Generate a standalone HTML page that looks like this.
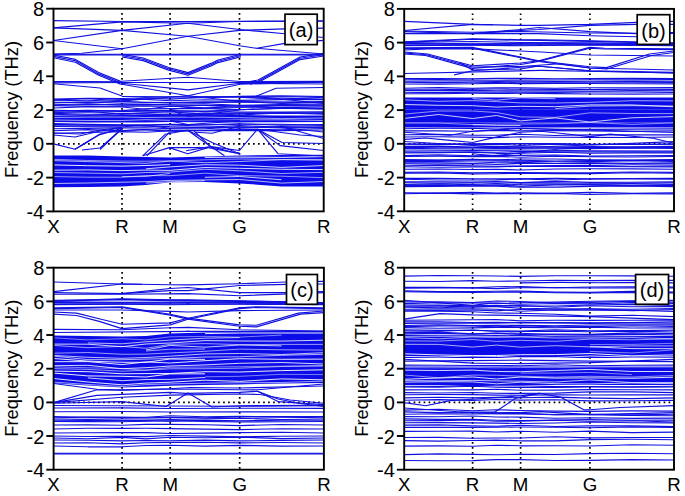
<!DOCTYPE html><html><head><meta charset="utf-8"><style>html,body{margin:0;padding:0;background:#fff;}svg{display:block;}text{font-family:"Liberation Sans",sans-serif;fill:#000;}</style></head><body>
<svg width="685" height="496" viewBox="0 0 685 496">
<defs>
<clipPath id="clipa"><rect x="53.5" y="8.7" width="270.2" height="202.7"/></clipPath>
<clipPath id="clipb"><rect x="404.2" y="8.9" width="269.8" height="202.4"/></clipPath>
<clipPath id="clipc"><rect x="53.6" y="267.7" width="270.3" height="202.0"/></clipPath>
<clipPath id="clipd"><rect x="404.2" y="267.7" width="269.8" height="202.0"/></clipPath>
</defs>
<line x1="122.0" y1="13.1" x2="122.0" y2="211.4" stroke="#000" stroke-width="1.7" stroke-dasharray="1.7 3.3"/>
<line x1="170.1" y1="13.1" x2="170.1" y2="211.4" stroke="#000" stroke-width="1.7" stroke-dasharray="1.7 3.3"/>
<line x1="239.5" y1="13.1" x2="239.5" y2="211.4" stroke="#000" stroke-width="1.7" stroke-dasharray="1.7 3.3"/>
<line x1="58.0" y1="143.8" x2="323.7" y2="143.8" stroke="#000" stroke-width="1.7" stroke-dasharray="1.7 3.3"/>
<g clip-path="url(#clipa)">
<path d="M53.5,115.4 87.8,115.2 122.0,115.0 145.9,115.0 170.1,114.5 204.8,115.0 239.5,115.0 281.5,115.5 323.7,115.4 323.7,122.1 281.5,122.2 239.5,122.4 204.8,122.2 170.1,122.0 145.9,122.4 122.0,122.6 87.8,122.4 53.5,122.1Z" fill="#0c0ce8"/>
<path d="M53.5,155.6 87.8,155.5 122.0,156.5 145.9,157.0 170.1,157.5 204.8,156.5 239.5,155.5 281.5,155.0 323.7,154.7 323.7,186.4 281.5,186.4 239.5,183.4 204.8,182.0 170.1,182.3 145.9,185.0 122.0,186.4 87.8,187.0 53.5,187.3Z" fill="#0c0ce8"/>
<path d="M53.5,117.5 87.8,117.1 122.0,117.0 145.9,117.5 170.1,117.2 204.8,117.1 239.5,117.7 281.5,118.6 323.7,118.0" fill="none" stroke="#fff" stroke-opacity="0.6" stroke-width="1.0"/>
<path d="M53.5,120.0 87.8,120.5 122.0,120.5 145.9,119.7 170.1,120.3 204.8,120.0 239.5,119.9 281.5,119.8 323.7,120.5" fill="none" stroke="#fff" stroke-opacity="0.6" stroke-width="1.0"/>
<path d="M204.8,157.4 239.5,157.1 281.5,157.4 323.7,156.6" fill="none" stroke="#fff" stroke-opacity="0.91" stroke-width="1.0"/>
<path d="M53.5,159.3 87.8,160.5 122.0,161.1 145.9,161.2 170.1,160.9 204.8,159.8 239.5,159.0 281.5,159.5 323.7,159.7" fill="none" stroke="#fff" stroke-opacity="0.55" stroke-width="1.0"/>
<path d="M53.5,160.6 87.8,161.6 122.0,162.6 145.9,163.3 170.1,161.1 204.8,162.7 239.5,161.5 281.5,159.7 323.7,160.1" fill="none" stroke="#fff" stroke-opacity="0.66" stroke-width="1.0"/>
<path d="M53.5,164.9 87.8,165.7 122.0,166.1 145.9,165.5 170.1,164.6" fill="none" stroke="#fff" stroke-opacity="0.92" stroke-width="1.0"/>
<path d="M145.9,168.8 170.1,166.9 204.8,164.7 239.5,165.2 281.5,167.4 323.7,165.5" fill="none" stroke="#fff" stroke-opacity="0.8" stroke-width="1.0"/>
<path d="M53.5,170.2 87.8,169.9 122.0,170.6 145.9,170.1 170.1,170.4 204.8,167.5 239.5,168.3 281.5,169.3 323.7,169.6" fill="none" stroke="#fff" stroke-opacity="0.85" stroke-width="1.0"/>
<path d="M53.5,172.5 87.8,173.1 122.0,173.8 145.9,172.5 170.1,172.1 204.8,169.3 239.5,170.8 281.5,173.5 323.7,172.3" fill="none" stroke="#fff" stroke-opacity="0.63" stroke-width="1.0"/>
<path d="M122.0,176.7 145.9,176.5 170.1,173.4" fill="none" stroke="#fff" stroke-opacity="0.63" stroke-width="1.0"/>
<path d="M53.5,176.6 87.8,177.2 122.0,177.2 145.9,175.5 170.1,175.7 204.8,173.2 239.5,175.6 281.5,176.2 323.7,177.7" fill="none" stroke="#fff" stroke-opacity="0.56" stroke-width="1.0"/>
<path d="M204.8,177.3 239.5,176.5 281.5,179.7" fill="none" stroke="#fff" stroke-opacity="0.79" stroke-width="1.0"/>
<path d="M53.5,183.5 87.8,183.0 122.0,182.2 145.9,181.7 170.1,180.4 204.8,179.9 239.5,179.5 281.5,183.1 323.7,181.5" fill="none" stroke="#fff" stroke-opacity="0.71" stroke-width="1.0"/>
<path d="M145.9,183.1 170.1,181.8 204.8,180.7" fill="none" stroke="#fff" stroke-opacity="0.71" stroke-width="1.0"/>
</g>
<g clip-path="url(#clipa)" fill="none" stroke="#1010e0" stroke-width="1.15" stroke-linejoin="round">
<path d="M53.5,20.6 122.0,21.5 187.7,21.6 239.5,21.3 323.7,20.8"/>
<path d="M53.5,27.9 122.0,21.9 187.7,23.3 239.5,29.5 285.0,33.8 323.7,37.5"/>
<path d="M53.5,27.9 122.0,30.4 187.7,23.3 239.5,21.5 323.7,21.2"/>
<path d="M53.5,40.5 122.0,30.4 187.7,36.2 239.5,45.8 256.5,48.3 323.7,54.0"/>
<path d="M53.5,40.5 122.0,48.8"/>
<path d="M53.5,54.1 81.8,53.3 122.0,48.8 187.7,36.2 239.5,30.4 285.0,28.9 323.7,28.1"/>
<path d="M256.5,48.3 285.0,43.4 323.7,40.4"/>
<path d="M53.5,54.2 323.7,54.2"/>
<path d="M53.5,54.8 323.7,54.8"/>
<path d="M53.5,55.0 75.4,59.4 98.7,72.5 120.0,81.1 122.0,81.3"/>
<path d="M53.5,56.4 75.4,60.8 98.7,73.9 120.0,82.5 122.0,82.7"/>
<path d="M53.5,57.8 75.4,62.2 98.7,75.3 120.0,83.9 122.0,84.1"/>
<path d="M122.0,54.4 143.2,58.0 168.6,67.5 188.0,72.6 211.0,63.4 218.0,60.0 241.0,54.2"/>
<path d="M122.0,55.7 143.2,59.3 168.6,68.8 188.0,73.9 211.0,64.7 218.0,61.3 241.0,55.5"/>
<path d="M122.0,57.0 143.2,60.6 168.6,70.1 188.0,75.2 211.0,66.0 218.0,62.6 241.0,56.8"/>
<path d="M250.0,81.5 258.0,80.0 271.0,73.0 300.0,57.0 323.7,53.4"/>
<path d="M250.0,82.8 258.0,81.3 271.0,74.3 300.0,58.3 323.7,54.7"/>
<path d="M250.0,84.1 258.0,82.6 271.0,75.6 300.0,59.6 323.7,56.0"/>
<path d="M53.5,81.6 122.0,81.2 188.0,77.2 240.0,81.5 323.7,81.3"/>
<path d="M53.5,82.8 122.0,82.5 188.0,82.5 240.0,82.5 323.7,82.5"/>
<path d="M53.5,83.8 100.0,88.0 122.0,96.0"/>
<path d="M122.0,83.2 188.0,89.9 240.0,83.2 323.7,84.0"/>
<path d="M122.0,84.2 188.0,95.7 240.0,101.5 323.7,103.0"/>
<path d="M122.0,101.0 188.0,95.7 240.0,84.2 323.7,82.0"/>
<path d="M122.0,96.5 188.0,96.7 240.0,96.7 323.7,97.0"/>
<path d="M170.0,109.5 188.0,107.5 239.5,109.5"/>
<path d="M170.0,110.0 188.0,116.5 239.5,110.0"/>
<path d="M170.0,120.5 188.0,119.5 239.5,120.5"/>
<path d="M170.0,121.0 188.0,124.5 239.5,121.0"/>
<path d="M239.5,96.5 255.5,96.5 276.0,88.3 323.7,87.5"/>
<path d="M255.5,96.5 290.0,100.0 323.7,103.5"/>
<path d="M239.5,97.5 270.0,98.0 323.7,99.0"/>
<path d="M53.5,99.1 87.8,98.3 122.0,98.5 145.9,97.9 170.1,98.0 204.8,97.7 239.5,96.3 281.5,95.9 323.7,96.5"/>
<path d="M53.5,100.1 87.8,100.7 122.0,99.5 145.9,99.4 170.1,100.8 204.8,99.7 239.5,100.4 281.5,99.6 323.7,99.6"/>
<path d="M53.5,102.2 87.8,102.4 122.0,101.4 145.9,102.2 170.1,102.6 204.8,101.9 239.5,102.2 281.5,102.0 323.7,101.6"/>
<path d="M53.5,104.7 87.8,103.8 122.0,105.2 145.9,104.9 170.1,104.3 204.8,103.8 239.5,105.4 281.5,104.6 323.7,104.7"/>
<path d="M53.5,105.7 87.8,106.1 122.0,106.3 145.9,105.9 170.1,106.3 204.8,105.2 239.5,105.9 281.5,105.2 323.7,105.2"/>
<path d="M53.5,110.3 87.8,110.9 122.0,110.6 145.9,108.7 170.1,108.6 204.8,108.5 239.5,109.7 281.5,108.4 323.7,108.3"/>
<path d="M53.5,111.9 87.8,112.2 122.0,111.5 145.9,111.9 170.1,111.7 204.8,111.6 239.5,112.1 281.5,112.1 323.7,111.9"/>
<path d="M53.5,113.4 87.8,114.2 122.0,113.8 145.9,114.3 170.1,114.1 204.8,114.4 239.5,113.7 281.5,112.7 323.7,113.4"/>
<path d="M53.5,123.6 87.8,124.4 122.0,124.8 145.9,124.8 170.1,124.2 204.8,124.7 239.5,123.8 281.5,125.1 323.7,124.6"/>
<path d="M53.5,125.7 87.8,126.0 122.0,125.5 145.9,125.2 170.1,126.9 204.8,127.3 239.5,125.6 281.5,127.2 323.7,126.7"/>
<path d="M53.5,128.7 87.8,128.4 122.0,127.7 145.9,127.8 170.1,128.6 204.8,128.7 239.5,126.9 281.5,127.9 323.7,127.5"/>
<path d="M53.5,130.8 87.8,129.6 122.0,130.7 145.9,129.6 170.1,130.4 204.8,130.3 239.5,129.1 281.5,129.8 323.7,128.5"/>
<path d="M53.5,133.3 87.8,132.5 122.0,131.6 145.9,132.3 170.1,130.7 204.8,130.6 239.5,130.6 281.5,130.6 323.7,130.0"/>
<path d="M53.5,99.9 87.8,98.7 122.0,100.7 145.9,97.7 170.1,99.3 204.8,96.9 239.5,97.1 281.5,99.2 323.7,97.3"/>
<path d="M53.5,103.0 87.8,102.0 122.0,103.3 145.9,102.6 170.1,102.6 204.8,102.6 239.5,101.6 281.5,103.5 323.7,102.4"/>
<path d="M53.5,105.5 87.8,104.2 122.0,104.8 145.9,104.2 170.1,105.0 204.8,105.5 239.5,107.2 281.5,105.6 323.7,106.0"/>
<path d="M53.5,108.0 87.8,106.6 122.0,107.0 145.9,109.2 170.1,106.1 204.8,107.8 239.5,106.9 281.5,107.6 323.7,107.0"/>
<path d="M53.5,111.0 87.8,110.2 122.0,111.1 145.9,110.3 170.1,110.5 204.8,111.1 239.5,109.8 281.5,108.2 323.7,109.1"/>
<path d="M53.5,112.7 87.8,111.3 122.0,114.1 145.9,112.7 170.1,111.7 204.8,114.1 239.5,113.0 281.5,113.4 323.7,112.7"/>
<path d="M53.5,114.2 87.8,115.4 122.0,113.5 145.9,113.7 170.1,115.4 204.8,113.0 239.5,115.0 281.5,112.9 323.7,114.2"/>
<path d="M53.5,124.4 87.8,125.1 122.0,125.3 145.9,126.2 170.1,126.0 204.8,125.0 239.5,124.2 281.5,124.2 323.7,125.4"/>
<path d="M53.5,126.5 87.8,126.7 122.0,126.8 145.9,125.5 170.1,128.3 204.8,127.1 239.5,127.9 281.5,126.5 323.7,127.5"/>
<path d="M53.5,143.9 75.0,149.2 90.0,140.0 99.0,135.0 122.0,128.3"/>
<path d="M75.0,149.2 86.0,143.0 100.0,134.0 122.0,129.5"/>
<path d="M53.5,135.0 75.0,137.0 100.0,131.0 122.0,128.0"/>
<path d="M53.5,133.0 80.0,134.0 100.0,130.0 122.0,127.5"/>
<path d="M100.0,149.5 122.0,128.5"/>
<path d="M82.0,150.0 100.0,148.0 122.0,128.8"/>
<path d="M142.7,155.8 165.2,134.3 187.7,130.3"/>
<path d="M146.8,155.8 169.3,132.3 187.7,130.3"/>
<path d="M187.7,130.3 202.0,140.5 224.5,155.8"/>
<path d="M187.7,130.3 212.0,142.5 239.5,153.8"/>
<path d="M169.3,147.6 187.7,153.8 208.0,147.6"/>
<path d="M169.3,147.6 208.0,147.6"/>
<path d="M142.7,155.8 169.3,147.6"/>
<path d="M208.0,147.6 239.5,153.8"/>
<path d="M122.0,130.5 144.0,129.5 165.0,131.0 190.0,131.0"/>
<path d="M195.8,132.3 212.0,133.3 239.5,126.2"/>
<path d="M194.0,131.0 210.5,146.6 235.0,152.7 239.5,152.7"/>
<path d="M186.0,150.7 210.5,146.6 239.5,150.5 257.5,129.2"/>
<path d="M257.5,129.2 278.0,153.7 323.7,156.0"/>
<path d="M257.5,129.2 280.0,145.6 323.7,150.5"/>
<path d="M257.5,129.2 282.0,142.5 323.7,143.5"/>
<path d="M257.5,129.2 300.0,135.0 323.7,136.5"/>
<path d="M280.0,126.0 323.7,138.5"/>
<path d="M275.0,127.0 323.7,132.0"/>
<path d="M239.5,130.0 257.5,129.2"/>
</g>
<rect x="53.5" y="8.7" width="270.2" height="202.7" fill="none" stroke="#000" stroke-width="1.9"/>
<line x1="46.2" y1="8.7" x2="53.5" y2="8.7" stroke="#000" stroke-width="1.9"/>
<text x="44.2" y="16.2" font-size="20" text-anchor="end">8</text>
<line x1="46.2" y1="42.5" x2="53.5" y2="42.5" stroke="#000" stroke-width="1.9"/>
<text x="44.2" y="50.0" font-size="20" text-anchor="end">6</text>
<line x1="46.2" y1="76.3" x2="53.5" y2="76.3" stroke="#000" stroke-width="1.9"/>
<text x="44.2" y="83.8" font-size="20" text-anchor="end">4</text>
<line x1="46.2" y1="110.1" x2="53.5" y2="110.1" stroke="#000" stroke-width="1.9"/>
<text x="44.2" y="117.6" font-size="20" text-anchor="end">2</text>
<line x1="46.2" y1="143.8" x2="53.5" y2="143.8" stroke="#000" stroke-width="1.9"/>
<text x="44.2" y="151.3" font-size="20" text-anchor="end">0</text>
<line x1="46.2" y1="177.6" x2="53.5" y2="177.6" stroke="#000" stroke-width="1.9"/>
<text x="44.2" y="185.1" font-size="20" text-anchor="end">-2</text>
<line x1="46.2" y1="211.4" x2="53.5" y2="211.4" stroke="#000" stroke-width="1.9"/>
<text x="44.2" y="218.9" font-size="20" text-anchor="end">-4</text>
<text x="53.5" y="232.7" font-size="18.7" text-anchor="middle">X</text>
<text x="122.0" y="232.7" font-size="18.7" text-anchor="middle">R</text>
<text x="170.1" y="232.7" font-size="18.7" text-anchor="middle">M</text>
<text x="239.5" y="232.7" font-size="18.7" text-anchor="middle">G</text>
<text x="323.7" y="232.7" font-size="18.7" text-anchor="middle">R</text>
<text transform="translate(17.5,109.5) rotate(-90)" font-size="18.7" text-anchor="middle" textLength="137" lengthAdjust="spacingAndGlyphs">Frequency (THz)</text>
<rect x="285.0" y="14.2" width="32.2" height="30.4" fill="#fff" stroke="#000" stroke-width="1.7"/>
<text x="301.1" y="37.4" font-size="20" text-anchor="middle">(a)</text>
<line x1="472.6" y1="13.4" x2="472.6" y2="211.3" stroke="#000" stroke-width="1.7" stroke-dasharray="1.7 3.3"/>
<line x1="520.6" y1="13.4" x2="520.6" y2="211.3" stroke="#000" stroke-width="1.7" stroke-dasharray="1.7 3.3"/>
<line x1="589.9" y1="13.4" x2="589.9" y2="211.3" stroke="#000" stroke-width="1.7" stroke-dasharray="1.7 3.3"/>
<line x1="408.6" y1="143.8" x2="674.0" y2="143.8" stroke="#000" stroke-width="1.7" stroke-dasharray="1.7 3.3"/>
<g clip-path="url(#clipb)">
<path d="M404.2,97.5 438.5,97.5 472.6,97.5 496.5,97.5 520.6,97.5 555.3,97.5 589.9,97.5 631.9,97.5 674.0,97.5 674.0,109.3 631.9,109.3 589.9,109.3 555.3,109.3 520.6,109.3 496.5,109.3 472.6,109.3 438.5,109.3 404.2,109.3Z" fill="#0c0ce8"/>
<path d="M404.2,109.3 438.5,109.3 472.6,109.3 496.5,109.3 520.6,109.3 555.3,109.3 589.9,109.3 631.9,109.3 674.0,109.3 674.0,122.4 631.9,122.4 589.9,122.4 555.3,122.4 520.6,122.4 496.5,122.4 472.6,122.4 438.5,122.4 404.2,122.4Z" fill="#0c0ce8"/>
<path d="M404.2,122.4 438.5,122.4 472.6,122.4 496.5,122.4 520.6,122.4 555.3,122.4 589.9,122.4 631.9,122.4 674.0,122.4 674.0,127.5 631.9,127.5 589.9,127.5 555.3,127.5 520.6,127.5 496.5,127.5 472.6,127.5 438.5,127.5 404.2,127.5Z" fill="#0c0ce8"/>
<path d="M472.6,98.6 496.5,100.2 520.6,97.8 555.3,98.8" fill="none" stroke="#fff" stroke-opacity="0.64" stroke-width="1.0"/>
<path d="M404.2,99.8 438.5,101.3 472.6,100.6 496.5,101.6 520.6,102.9 555.3,103.0 589.9,102.3 631.9,100.7 674.0,100.9" fill="none" stroke="#fff" stroke-opacity="0.61" stroke-width="1.0"/>
<path d="M404.2,104.5 438.5,105.3 472.6,105.7 496.5,107.1 520.6,106.3 555.3,106.7 589.9,104.9 631.9,104.9 674.0,106.8" fill="none" stroke="#fff" stroke-opacity="0.82" stroke-width="1.0"/>
<path d="M555.3,108.6 589.9,106.1 631.9,105.7 674.0,106.0" fill="none" stroke="#fff" stroke-opacity="0.67" stroke-width="1.0"/>
<path d="M404.2,114.1 438.5,111.0 472.6,111.0 496.5,112.5 520.6,116.9 555.3,117.4 589.9,112.8 631.9,113.5 674.0,113.6" fill="none" stroke="#fff" stroke-opacity="0.57" stroke-width="1.0"/>
<path d="M404.2,118.4 438.5,114.5 472.6,118.5 496.5,115.5 520.6,120.9 555.3,117.9 589.9,122.0 631.9,117.8 674.0,116.6" fill="none" stroke="#fff" stroke-opacity="0.79" stroke-width="1.0"/>
<path d="M404.2,123.1 438.5,123.1 472.6,124.6 496.5,124.1 520.6,124.0 555.3,123.7 589.9,122.5 631.9,124.4 674.0,122.9" fill="none" stroke="#fff" stroke-opacity="0.54" stroke-width="1.0"/>
<path d="M472.6,124.7 496.5,125.4 520.6,125.5" fill="none" stroke="#fff" stroke-opacity="0.74" stroke-width="1.0"/>
</g>
<g clip-path="url(#clipb)" fill="none" stroke="#1010e0" stroke-width="1.15" stroke-linejoin="round">
<path d="M404.3,21.4 472.7,24.4 520.8,25.4 539.0,25.4 590.1,24.4 637.1,22.4 673.9,21.4"/>
<path d="M404.3,30.5 472.7,24.4 493.0,24.8"/>
<path d="M404.3,31.6 472.7,33.6 520.8,29.5 539.0,27.5 590.1,31.6 637.1,33.6 673.9,32.6"/>
<path d="M472.7,33.6 520.8,30.5 539.0,29.5 590.1,25.4 637.1,24.4 673.9,24.4"/>
<path d="M404.3,33.6 472.7,33.6 520.8,33.6 539.0,33.6 590.1,35.7 637.1,36.7 673.9,32.6"/>
<path d="M404.3,41.8 472.7,38.7 520.8,39.7 539.0,39.7 590.1,40.8 673.9,42.8"/>
<path d="M404.3,42.4 472.7,39.3 520.8,40.3 539.0,40.3 590.1,41.4 673.9,43.4"/>
<path d="M404.3,42.8 472.7,43.8 539.0,43.3 590.1,43.8 673.9,43.8"/>
<path d="M404.3,43.4 472.7,44.4 539.0,43.9 590.1,44.4 673.9,44.4"/>
<path d="M404.3,44.9 541.0,44.9"/>
<path d="M404.2,42.2 472.7,41.5 520.8,42.5 590.2,42.8 674.0,44.2"/>
<path d="M404.2,45.6 472.7,45.2 520.8,45.8 590.2,45.0 674.0,45.8"/>
<path d="M404.2,31.0 472.7,32.2 520.8,31.5 590.2,33.0 674.0,33.5"/>
<path d="M537.0,44.9 673.9,45.3"/>
<path d="M404.2,47.9 472.3,47.4 520.8,57.0 538.7,60.7 563.5,63.7 589.8,66.8 606.5,67.6 649.4,54.0 674.0,51.0"/>
<path d="M404.2,48.6 472.3,48.2 520.8,57.7 538.7,61.4 563.5,64.8 589.8,68.0 607.0,69.0 651.5,55.5 674.0,52.5"/>
<path d="M404.3,50.0 427.6,48.9 472.7,48.9 520.8,51.0 541.0,52.0"/>
<path d="M541.0,52.0 590.0,55.0 674.0,56.0"/>
<path d="M404.2,52.0 427.6,54.0 472.3,65.8 520.8,63.0 538.7,60.7 589.8,47.4 604.4,48.3 674.0,48.9"/>
<path d="M404.2,54.0 425.5,55.5 472.3,68.4 520.8,64.5 538.7,61.4 589.8,48.2 604.4,49.0 674.0,49.6"/>
<path d="M404.2,53.0 426.5,54.8 472.3,67.0 520.8,66.5 560.0,63.7 589.8,68.0 674.0,70.0"/>
<path d="M460.0,62.7 472.3,70.0 520.8,69.0 538.7,66.0 589.8,71.0 674.0,73.0"/>
<path d="M404.3,73.5 541.0,70.4"/>
<path d="M541.0,70.4 600.0,71.5 674.0,73.0"/>
<path d="M454.1,74.9 472.7,70.8 520.8,67.3 539.0,66.3 590.1,70.8 673.9,72.4"/>
<path d="M404.2,78.5 438.5,78.6 472.6,78.8 496.5,78.4 520.6,78.4 555.3,78.7 589.9,78.5 631.9,78.4 674.0,78.5"/>
<path d="M404.2,79.7 438.5,79.6 472.6,80.0 496.5,80.2 520.6,80.0 555.3,80.0 589.9,79.7 631.9,79.8 674.0,79.6"/>
<path d="M404.2,81.3 438.5,81.0 472.6,81.0 496.5,81.5 520.6,81.0 555.3,81.5 589.9,81.2 631.9,81.4 674.0,81.2"/>
<path d="M404.2,82.2 438.5,82.6 472.6,82.3 496.5,82.4 520.6,82.2 555.3,82.1 589.9,82.3 631.9,82.1 674.0,82.4"/>
<path d="M404.2,84.0 438.5,84.1 472.6,83.7 496.5,83.4 520.6,83.6 555.3,83.4 589.9,83.5 631.9,83.8 674.0,83.8"/>
<path d="M404.2,88.3 438.5,87.6 472.6,88.3 496.5,87.7 520.6,87.9 555.3,88.3 589.9,87.8 631.9,87.9 674.0,87.6"/>
<path d="M404.2,89.8 438.5,89.8 472.6,89.1 496.5,89.0 520.6,89.3 555.3,89.4 589.9,89.6 631.9,89.2 674.0,89.4"/>
<path d="M404.2,90.5 438.5,90.6 472.6,90.4 496.5,90.8 520.6,90.9 555.3,90.9 589.9,91.2 631.9,90.6 674.0,90.7"/>
<path d="M404.2,92.2 438.5,92.6 472.6,92.1 496.5,92.1 520.6,92.2 555.3,92.4 589.9,92.0 631.9,92.0 674.0,92.4"/>
<path d="M404.2,93.7 438.5,93.7 472.6,93.3 496.5,93.5 520.6,93.3 555.3,93.6 589.9,94.0 631.9,94.1 674.0,94.0"/>
<path d="M404.2,128.8 438.5,128.2 472.6,128.3 496.5,129.1 520.6,128.3 555.3,129.4 589.9,129.3 631.9,129.1 674.0,128.8"/>
<path d="M404.2,130.8 438.5,130.8 472.6,131.3 496.5,130.4 520.6,130.9 555.3,130.6 589.9,130.8 631.9,131.4 674.0,130.8"/>
<path d="M404.2,134.8 438.5,134.4 472.6,135.2 496.5,135.2 520.6,134.2 555.3,135.5 589.9,134.7 631.9,134.9 674.0,134.8"/>
<path d="M404.2,137.0 438.5,136.7 472.6,137.1 496.5,137.6 520.6,136.8 555.3,137.3 589.9,137.4 631.9,137.5 674.0,137.0"/>
<path d="M404.2,143.8 438.5,144.1 472.6,143.7 496.5,143.6 520.6,143.6 555.3,143.6 589.9,144.3 631.9,144.3 674.0,143.8"/>
<path d="M404.2,144.8 438.5,144.4 472.6,144.4 496.5,144.1 520.6,145.4 555.3,144.1 589.9,144.6 631.9,144.3 674.0,144.8"/>
<path d="M404.2,146.5 438.5,146.1 472.6,147.1 496.5,146.4 520.6,146.7 555.3,147.0 589.9,146.5 631.9,146.9 674.0,146.5"/>
<path d="M404.2,147.4 438.5,147.8 472.6,147.6 496.5,147.5 520.6,148.0 555.3,147.7 589.9,147.2 631.9,148.0 674.0,147.4"/>
<path d="M404.2,148.4 438.5,148.8 472.6,149.0 496.5,148.6 520.6,148.3 555.3,148.2 589.9,148.6 631.9,148.0 674.0,148.4"/>
<path d="M404.2,151.8 438.5,152.1 472.6,152.1 496.5,152.3 520.6,151.4 555.3,151.9 589.9,151.9 631.9,151.9 674.0,151.8"/>
<path d="M404.2,152.8 438.5,152.6 472.6,152.1 496.5,153.3 520.6,153.3 555.3,152.3 589.9,153.3 631.9,152.9 674.0,152.8"/>
<path d="M404.2,155.6 438.5,154.9 472.6,155.8 496.5,155.3 520.6,155.4 555.3,155.0 589.9,156.1 631.9,155.8 674.0,155.6"/>
<path d="M404.2,156.5 438.5,156.2 472.6,156.6 496.5,156.4 520.6,157.2 555.3,156.1 589.9,156.8 631.9,157.0 674.0,156.5"/>
<path d="M404.2,159.5 438.5,160.0 472.6,159.2 496.5,160.0 520.6,159.0 555.3,159.0 589.9,159.7 631.9,160.1 674.0,159.5"/>
<path d="M404.2,160.4 438.5,160.3 472.6,160.0 496.5,159.9 520.6,160.3 555.3,161.0 589.9,160.6 631.9,160.4 674.0,160.4"/>
<path d="M404.2,161.4 438.5,161.4 472.6,161.0 496.5,161.0 520.6,161.1 555.3,161.7 589.9,161.6 631.9,160.8 674.0,161.4"/>
<path d="M404.2,162.8 438.5,162.9 472.6,163.4 496.5,162.2 520.6,162.3 555.3,163.5 589.9,162.8 631.9,163.4 674.0,162.8"/>
<path d="M404.2,163.8 438.5,164.2 472.6,163.7 496.5,164.4 520.6,163.4 555.3,163.5 589.9,163.4 631.9,164.1 674.0,163.8"/>
<path d="M404.2,165.8 438.5,165.2 472.6,165.7 496.5,166.2 520.6,166.1 555.3,165.5 589.9,165.3 631.9,166.3 674.0,165.8"/>
<path d="M404.2,166.8 438.5,167.2 472.6,166.9 496.5,166.9 520.6,166.2 555.3,166.5 589.9,166.4 631.9,166.8 674.0,166.8"/>
<path d="M404.2,169.3 438.5,169.0 472.6,169.5 496.5,169.3 520.6,170.0 555.3,169.0 589.9,168.7 631.9,168.8 674.0,169.3"/>
<path d="M404.2,172.4 438.5,172.0 472.6,172.7 496.5,172.5 520.6,172.5 555.3,172.7 589.9,172.7 631.9,172.0 674.0,172.4"/>
<path d="M404.2,173.3 438.5,172.9 472.6,173.9 496.5,173.7 520.6,173.2 555.3,173.6 589.9,173.6 631.9,172.8 674.0,173.3"/>
<path d="M404.2,178.4 438.5,178.3 472.6,178.8 496.5,178.9 520.6,178.7 555.3,178.2 589.9,178.9 631.9,178.5 674.0,178.4"/>
<path d="M404.2,179.3 438.5,180.0 472.6,180.0 496.5,179.9 520.6,178.9 555.3,180.0 589.9,179.0 631.9,178.9 674.0,179.3"/>
<path d="M404.2,181.9 438.5,181.9 472.6,182.1 496.5,181.6 520.6,182.6 555.3,181.3 589.9,182.4 631.9,182.2 674.0,181.9"/>
<path d="M404.2,182.8 438.5,183.2 472.6,182.8 496.5,183.4 520.6,182.6 555.3,182.8 589.9,183.3 631.9,183.4 674.0,182.8"/>
<path d="M404.2,184.5 438.5,183.9 472.6,184.6 496.5,185.1 520.6,184.3 555.3,184.0 589.9,184.6 631.9,185.0 674.0,184.5"/>
<path d="M404.2,185.4 438.5,185.1 472.6,185.8 496.5,185.0 520.6,186.1 555.3,184.9 589.9,184.9 631.9,185.9 674.0,185.4"/>
<path d="M404.2,186.6 438.5,186.5 472.6,186.0 496.5,186.3 520.6,187.1 555.3,187.1 589.9,186.4 631.9,185.9 674.0,186.6"/>
<path d="M404.2,192.8 438.5,193.1 472.6,192.3 496.5,193.1 520.6,192.8 555.3,193.4 589.9,192.2 631.9,193.4 674.0,192.8"/>
<path d="M404.2,193.8 438.5,193.1 472.6,193.9 496.5,193.5 520.6,193.8 555.3,193.4 589.9,194.4 631.9,193.8 674.0,193.8"/>
<path d="M405.0,139.4 425.5,138.0 450.0,140.4 472.7,142.5 495.0,137.4 520.8,132.3 541.0,131.2 560.0,133.3 590.2,136.6 610.0,134.1 653.2,138.3 674.0,143.3"/>
<path d="M404.2,132.3 450.0,135.3 472.7,131.2 520.8,128.5 590.2,130.0 674.0,132.5"/>
<path d="M472.7,153.7 495.0,155.8 520.8,152.7 560.0,149.0 590.2,148.3 674.0,146.6"/>
<path d="M404.2,141.5 472.7,145.5 520.8,147.5 590.2,145.0 674.0,141.6"/>
<path d="M404.2,150.0 472.7,150.5 520.8,150.0 590.2,150.8 674.0,151.0"/>
</g>
<rect x="404.2" y="8.9" width="269.8" height="202.4" fill="none" stroke="#000" stroke-width="1.9"/>
<line x1="396.9" y1="8.9" x2="404.2" y2="8.9" stroke="#000" stroke-width="1.9"/>
<text x="394.9" y="16.4" font-size="20" text-anchor="end">8</text>
<line x1="396.9" y1="42.6" x2="404.2" y2="42.6" stroke="#000" stroke-width="1.9"/>
<text x="394.9" y="50.1" font-size="20" text-anchor="end">6</text>
<line x1="396.9" y1="76.4" x2="404.2" y2="76.4" stroke="#000" stroke-width="1.9"/>
<text x="394.9" y="83.9" font-size="20" text-anchor="end">4</text>
<line x1="396.9" y1="110.1" x2="404.2" y2="110.1" stroke="#000" stroke-width="1.9"/>
<text x="394.9" y="117.6" font-size="20" text-anchor="end">2</text>
<line x1="396.9" y1="143.8" x2="404.2" y2="143.8" stroke="#000" stroke-width="1.9"/>
<text x="394.9" y="151.3" font-size="20" text-anchor="end">0</text>
<line x1="396.9" y1="177.6" x2="404.2" y2="177.6" stroke="#000" stroke-width="1.9"/>
<text x="394.9" y="185.1" font-size="20" text-anchor="end">-2</text>
<line x1="396.9" y1="211.3" x2="404.2" y2="211.3" stroke="#000" stroke-width="1.9"/>
<text x="394.9" y="218.8" font-size="20" text-anchor="end">-4</text>
<text x="404.2" y="232.6" font-size="18.7" text-anchor="middle">X</text>
<text x="472.6" y="232.6" font-size="18.7" text-anchor="middle">R</text>
<text x="520.6" y="232.6" font-size="18.7" text-anchor="middle">M</text>
<text x="589.9" y="232.6" font-size="18.7" text-anchor="middle">G</text>
<text x="674.0" y="232.6" font-size="18.7" text-anchor="middle">R</text>
<text transform="translate(368.2,109.6) rotate(-90)" font-size="18.7" text-anchor="middle" textLength="137" lengthAdjust="spacingAndGlyphs">Frequency (THz)</text>
<rect x="637.2" y="14.7" width="32.6" height="29.7" fill="#fff" stroke="#000" stroke-width="1.7"/>
<text x="653.5" y="37.5" font-size="20" text-anchor="middle">(b)</text>
<line x1="122.1" y1="272.1" x2="122.1" y2="469.7" stroke="#000" stroke-width="1.7" stroke-dasharray="1.7 3.3"/>
<line x1="170.2" y1="272.1" x2="170.2" y2="469.7" stroke="#000" stroke-width="1.7" stroke-dasharray="1.7 3.3"/>
<line x1="239.7" y1="272.1" x2="239.7" y2="469.7" stroke="#000" stroke-width="1.7" stroke-dasharray="1.7 3.3"/>
<line x1="58.1" y1="402.4" x2="323.9" y2="402.4" stroke="#000" stroke-width="1.7" stroke-dasharray="1.7 3.3"/>
<g clip-path="url(#clipc)">
<path d="M53.6,335.5 87.9,336.0 122.1,336.5 146.0,336.0 170.2,333.5 205.0,332.5 239.7,332.0 281.7,332.0 323.9,332.0 323.9,382.9 281.7,383.5 239.7,384.4 205.0,385.0 170.2,385.8 146.0,386.8 122.1,387.5 87.9,385.5 53.6,383.2Z" fill="#0c0ce8"/>
<path d="M205.0,333.6 239.7,333.0 281.7,333.0 323.9,333.0" fill="none" stroke="#fff" stroke-opacity="0.92" stroke-width="1.0"/>
<path d="M53.6,337.8 87.9,339.9 122.1,338.7 146.0,339.9 170.2,336.8 205.0,336.4 239.7,337.1 281.7,335.1" fill="none" stroke="#fff" stroke-opacity="0.46" stroke-width="1.0"/>
<path d="M87.9,342.9 122.1,343.8 146.0,341.8 170.2,340.1 205.0,338.2 239.7,337.5" fill="none" stroke="#fff" stroke-opacity="0.69" stroke-width="1.0"/>
<path d="M53.6,344.1 87.9,344.2 122.1,346.7 146.0,344.0 170.2,343.0 205.0,340.6 239.7,341.0 281.7,341.1 323.9,340.2" fill="none" stroke="#fff" stroke-opacity="0.82" stroke-width="1.0"/>
<path d="M53.6,345.4 87.9,347.7 122.1,346.4 146.0,348.3 170.2,344.3 205.0,343.6 239.7,344.6 281.7,344.4 323.9,344.4" fill="none" stroke="#fff" stroke-opacity="0.58" stroke-width="1.0"/>
<path d="M146.0,350.0 170.2,345.4 205.0,347.2 239.7,345.0 281.7,345.9" fill="none" stroke="#fff" stroke-opacity="0.76" stroke-width="1.0"/>
<path d="M146.0,351.0 170.2,349.2 205.0,349.0" fill="none" stroke="#fff" stroke-opacity="0.61" stroke-width="1.0"/>
<path d="M53.6,353.2 87.9,352.5 122.1,354.3 146.0,354.1 170.2,352.9 205.0,351.3 239.7,349.1 281.7,349.8 323.9,350.1" fill="none" stroke="#fff" stroke-opacity="0.59" stroke-width="1.0"/>
<path d="M53.6,355.4 87.9,357.3 122.1,358.3 146.0,357.5 170.2,356.2 205.0,353.9 239.7,353.5 281.7,354.5 323.9,352.7" fill="none" stroke="#fff" stroke-opacity="0.73" stroke-width="1.0"/>
<path d="M53.6,356.1 87.9,359.6 122.1,359.7 146.0,359.1 170.2,358.5 205.0,357.0 239.7,356.8 281.7,355.3 323.9,354.3" fill="none" stroke="#fff" stroke-opacity="0.68" stroke-width="1.0"/>
<path d="M53.6,358.5 87.9,361.1 122.1,362.3 146.0,362.3 170.2,359.0 205.0,359.4" fill="none" stroke="#fff" stroke-opacity="0.9" stroke-width="1.0"/>
<path d="M53.6,361.7 87.9,361.6 122.1,364.6 146.0,361.9 170.2,363.0 205.0,360.7 239.7,358.7 281.7,359.3 323.9,359.1" fill="none" stroke="#fff" stroke-opacity="0.89" stroke-width="1.0"/>
<path d="M53.6,365.7 87.9,365.3 122.1,368.7 146.0,367.7 170.2,366.0 205.0,364.9 239.7,363.3 281.7,362.5 323.9,364.0" fill="none" stroke="#fff" stroke-opacity="0.83" stroke-width="1.0"/>
<path d="M53.6,366.8 87.9,367.8 122.1,368.6 146.0,370.2 170.2,367.3 205.0,367.0 239.7,366.7 281.7,366.2 323.9,365.5" fill="none" stroke="#fff" stroke-opacity="0.48" stroke-width="1.0"/>
<path d="M53.6,368.6 87.9,369.4 122.1,371.2 146.0,370.2 170.2,368.8 205.0,368.7 239.7,368.2 281.7,366.5 323.9,366.0" fill="none" stroke="#fff" stroke-opacity="0.56" stroke-width="1.0"/>
<path d="M53.6,371.1 87.9,371.7 122.1,373.8 146.0,373.6 170.2,373.5 205.0,371.7 239.7,372.0 281.7,370.6 323.9,369.8" fill="none" stroke="#fff" stroke-opacity="0.92" stroke-width="1.0"/>
<path d="M53.6,373.1 87.9,375.9 122.1,376.3 146.0,377.0 170.2,373.9 205.0,373.8" fill="none" stroke="#fff" stroke-opacity="0.92" stroke-width="1.0"/>
<path d="M205.0,376.8 239.7,376.3 281.7,374.3 323.9,374.6" fill="none" stroke="#fff" stroke-opacity="0.47" stroke-width="1.0"/>
<path d="M87.9,377.9 122.1,380.7 146.0,379.5 170.2,379.4 205.0,377.5" fill="none" stroke="#fff" stroke-opacity="0.78" stroke-width="1.0"/>
<path d="M53.6,378.5 87.9,382.0 122.1,384.8 146.0,383.1 170.2,382.2 205.0,380.2 239.7,381.4 281.7,378.9 323.9,379.8" fill="none" stroke="#fff" stroke-opacity="0.89" stroke-width="1.0"/>
<path d="M53.6,382.1 87.9,384.5 122.1,386.5 146.0,384.6 170.2,383.9 205.0,383.2 239.7,382.7 281.7,382.5 323.9,381.1" fill="none" stroke="#fff" stroke-opacity="0.6" stroke-width="1.0"/>
</g>
<g clip-path="url(#clipc)" fill="none" stroke="#1010e0" stroke-width="1.15" stroke-linejoin="round">
<path d="M53.7,282.0 121.9,284.0 170.0,284.8 188.0,284.9 239.5,283.8 286.1,282.0 323.8,281.4"/>
<path d="M53.7,291.6 121.9,284.0 142.0,284.4"/>
<path d="M53.7,292.6 121.9,293.6 170.0,288.5 188.0,287.5 239.5,292.6 286.1,292.6 323.8,291.6"/>
<path d="M121.9,293.6 170.0,290.6 188.0,290.6 239.5,285.5 286.1,284.4 323.8,284.0"/>
<path d="M53.7,294.2 121.9,294.2 188.0,293.6 239.5,295.7 323.8,292.6"/>
<path d="M53.7,300.8 121.9,298.7 170.0,299.8 188.0,299.8 239.5,300.8 323.8,302.8"/>
<path d="M53.7,301.4 121.9,299.3 170.0,300.4 188.0,300.4 239.5,301.4 323.8,303.4"/>
<path d="M53.7,301.8 121.9,302.4 188.0,302.0 239.5,302.4 323.8,303.2"/>
<path d="M53.7,302.4 121.9,303.0 188.0,302.6 239.5,303.0 323.8,303.8"/>
<path d="M53.7,303.9 190.0,303.9"/>
<path d="M53.6,300.2 122.1,299.8 170.2,300.8 239.7,301.2 323.9,302.6"/>
<path d="M53.6,304.6 122.1,304.2 170.2,304.8 239.7,304.0 323.9,304.8"/>
<path d="M186.0,303.9 323.8,304.3"/>
<path d="M53.7,307.9 121.9,306.9 170.2,314.3 188.0,318.1 239.5,324.9 256.5,325.3 298.4,313.1 323.8,311.0"/>
<path d="M53.7,308.6 121.9,307.5 170.2,315.1 188.0,319.1 239.5,326.3 256.5,326.9 300.5,314.1 323.8,312.6"/>
<path d="M53.7,310.0 121.9,310.0 170.0,311.4 188.0,312.0 239.5,310.6 323.8,310.0"/>
<path d="M53.7,312.0 76.6,313.1 100.1,319.0 121.9,324.3 170.2,322.9 188.0,318.2 239.5,307.9 255.5,306.9 323.8,307.9"/>
<path d="M53.7,314.1 76.6,315.5 100.1,321.6 121.9,328.6 170.2,324.9 188.0,319.2 239.5,308.6 255.5,307.5 323.8,308.6"/>
<path d="M53.7,332.5 190.0,331.4"/>
<path d="M186.0,331.4 323.8,331.4"/>
<path d="M53.7,329.4 121.9,329.8 170.0,327.8 188.0,327.4 239.5,329.8 323.8,331.0"/>
<path d="M53.7,402.6 97.0,395.4 122.0,394.4 170.0,392.4 186.0,393.4 239.5,392.4 257.5,391.3 278.0,401.6 323.7,404.6"/>
<path d="M53.7,402.6 97.0,389.8 122.0,389.8 170.0,389.0 239.5,389.8 257.5,389.8 323.7,384.0"/>
<path d="M53.7,383.5 97.0,389.3 122.0,390.3 170.0,388.8 190.0,387.5 239.5,388.0 323.7,386.0"/>
<path d="M53.7,403.2 122.0,401.6 166.0,406.5 188.0,393.0 212.0,407.0 239.5,405.7 323.7,405.2"/>
<path d="M53.7,402.6 122.0,397.2 170.9,395.1 239.5,394.0 260.0,394.5 290.0,400.0 323.7,403.2"/>
<path d="M257.5,391.3 278.0,399.0 300.0,403.5 323.7,406.5"/>
<path d="M53.7,405.5 122.0,405.8 170.0,406.0 239.5,406.2 323.7,405.8"/>
<path d="M53.7,408.0 122.0,407.8 170.0,408.5 239.5,408.2 323.7,408.4"/>
<path d="M53.7,411.8 122.0,411.5 170.0,412.0 239.5,411.8 323.7,412.0"/>
<path d="M53.6,416.5 87.9,417.3 122.1,417.3 146.0,417.2 170.2,415.8 205.0,416.7 239.7,416.4 281.7,416.6 323.9,416.5"/>
<path d="M53.6,417.8 87.9,417.1 122.1,417.2 146.0,417.7 170.2,417.3 205.0,417.7 239.7,416.9 281.7,417.1 323.9,417.8"/>
<path d="M53.6,419.0 87.9,419.4 122.1,418.9 146.0,419.0 170.2,419.4 205.0,418.7 239.7,418.2 281.7,419.5 323.9,419.0"/>
<path d="M53.6,420.3 87.9,420.5 122.1,420.6 146.0,420.5 170.2,421.1 205.0,420.1 239.7,420.8 281.7,420.1 323.9,420.3"/>
<path d="M53.6,421.5 87.9,421.6 122.1,421.8 146.0,421.2 170.2,420.8 205.0,421.5 239.7,421.9 281.7,421.7 323.9,421.5"/>
<path d="M53.6,425.0 87.9,424.9 122.1,425.3 146.0,424.4 170.2,424.4 205.0,424.7 239.7,425.6 281.7,424.5 323.9,425.0"/>
<path d="M53.6,429.0 87.9,428.3 122.1,428.3 146.0,428.2 170.2,428.6 205.0,429.1 239.7,429.6 281.7,428.7 323.9,429.0"/>
<path d="M53.6,433.0 87.9,432.8 122.1,432.6 146.0,432.6 170.2,433.5 205.0,433.1 239.7,432.6 281.7,432.3 323.9,433.0"/>
<path d="M53.6,436.0 87.9,436.5 122.1,436.4 146.0,436.6 170.2,435.5 205.0,436.1 239.7,436.8 281.7,436.2 323.9,436.0"/>
<path d="M53.6,438.0 87.9,438.8 122.1,437.4 146.0,438.9 170.2,437.2 205.0,437.8 239.7,437.1 281.7,438.6 323.9,438.0"/>
<path d="M53.6,440.0 87.9,440.3 122.1,440.9 146.0,440.5 170.2,440.8 205.0,440.1 239.7,440.9 281.7,440.4 323.9,440.0"/>
<path d="M53.6,443.0 87.9,442.7 122.1,443.9 146.0,442.8 170.2,442.4 205.0,442.2 239.7,442.9 281.7,442.5 323.9,443.0"/>
<path d="M53.6,446.0 87.9,446.8 122.1,446.8 146.0,445.5 170.2,445.3 205.0,446.1 239.7,445.4 281.7,446.1 323.9,446.0"/>
<path d="M53.6,453.2 323.9,453.2"/>
<path d="M53.6,453.9 323.9,453.9"/>
</g>
<rect x="53.6" y="267.7" width="270.3" height="202.0" fill="none" stroke="#000" stroke-width="1.9"/>
<line x1="46.3" y1="267.7" x2="53.6" y2="267.7" stroke="#000" stroke-width="1.9"/>
<text x="44.3" y="275.2" font-size="20" text-anchor="end">8</text>
<line x1="46.3" y1="301.4" x2="53.6" y2="301.4" stroke="#000" stroke-width="1.9"/>
<text x="44.3" y="308.9" font-size="20" text-anchor="end">6</text>
<line x1="46.3" y1="335.0" x2="53.6" y2="335.0" stroke="#000" stroke-width="1.9"/>
<text x="44.3" y="342.5" font-size="20" text-anchor="end">4</text>
<line x1="46.3" y1="368.7" x2="53.6" y2="368.7" stroke="#000" stroke-width="1.9"/>
<text x="44.3" y="376.2" font-size="20" text-anchor="end">2</text>
<line x1="46.3" y1="402.4" x2="53.6" y2="402.4" stroke="#000" stroke-width="1.9"/>
<text x="44.3" y="409.9" font-size="20" text-anchor="end">0</text>
<line x1="46.3" y1="436.0" x2="53.6" y2="436.0" stroke="#000" stroke-width="1.9"/>
<text x="44.3" y="443.5" font-size="20" text-anchor="end">-2</text>
<line x1="46.3" y1="469.7" x2="53.6" y2="469.7" stroke="#000" stroke-width="1.9"/>
<text x="44.3" y="477.2" font-size="20" text-anchor="end">-4</text>
<text x="53.6" y="491.0" font-size="18.7" text-anchor="middle">X</text>
<text x="122.1" y="491.0" font-size="18.7" text-anchor="middle">R</text>
<text x="170.2" y="491.0" font-size="18.7" text-anchor="middle">M</text>
<text x="239.7" y="491.0" font-size="18.7" text-anchor="middle">G</text>
<text x="323.9" y="491.0" font-size="18.7" text-anchor="middle">R</text>
<text transform="translate(17.6,368.2) rotate(-90)" font-size="18.7" text-anchor="middle" textLength="137" lengthAdjust="spacingAndGlyphs">Frequency (THz)</text>
<rect x="286.5" y="274.5" width="30.9" height="29.8" fill="#fff" stroke="#000" stroke-width="1.7"/>
<text x="301.9" y="297.4" font-size="20" text-anchor="middle">(c)</text>
<line x1="472.6" y1="272.1" x2="472.6" y2="469.7" stroke="#000" stroke-width="1.7" stroke-dasharray="1.7 3.3"/>
<line x1="520.6" y1="272.1" x2="520.6" y2="469.7" stroke="#000" stroke-width="1.7" stroke-dasharray="1.7 3.3"/>
<line x1="589.9" y1="272.1" x2="589.9" y2="469.7" stroke="#000" stroke-width="1.7" stroke-dasharray="1.7 3.3"/>
<line x1="408.6" y1="402.4" x2="674.0" y2="402.4" stroke="#000" stroke-width="1.7" stroke-dasharray="1.7 3.3"/>
<g clip-path="url(#clipd)">
<path d="M404.2,336.6 438.5,336.6 472.6,336.6 496.5,336.6 520.6,336.6 555.3,336.6 589.9,336.6 631.9,336.6 674.0,336.6 674.0,358.1 631.9,358.1 589.9,358.1 555.3,358.1 520.6,358.1 496.5,358.1 472.6,358.1 438.5,358.1 404.2,358.1Z" fill="#0c0ce8"/>
<path d="M404.2,366.6 438.5,366.6 472.6,366.6 496.5,366.6 520.6,366.6 555.3,366.6 589.9,366.6 631.9,366.6 674.0,366.6 674.0,385.1 631.9,385.1 589.9,385.1 555.3,385.1 520.6,385.1 496.5,385.1 472.6,385.1 438.5,385.1 404.2,385.1Z" fill="#0c0ce8"/>
<path d="M404.2,337.6 438.5,338.8 472.6,337.0 496.5,337.4 520.6,337.0 555.3,338.0 589.9,337.9 631.9,337.6 674.0,338.8" fill="none" stroke="#fff" stroke-opacity="0.62" stroke-width="1.0"/>
<path d="M404.2,340.9 438.5,341.1 472.6,339.5 496.5,341.4 520.6,340.3 555.3,341.3 589.9,339.1 631.9,339.8 674.0,338.9" fill="none" stroke="#fff" stroke-opacity="0.58" stroke-width="1.0"/>
<path d="M589.9,344.5 631.9,344.4 674.0,343.3" fill="none" stroke="#fff" stroke-opacity="0.47" stroke-width="1.0"/>
<path d="M404.2,344.3 438.5,344.4 472.6,347.1 496.5,345.1 520.6,347.2 555.3,345.7 589.9,346.9 631.9,345.9 674.0,345.9" fill="none" stroke="#fff" stroke-opacity="0.65" stroke-width="1.0"/>
<path d="M589.9,346.7 631.9,348.6 674.0,348.7" fill="none" stroke="#fff" stroke-opacity="0.84" stroke-width="1.0"/>
<path d="M589.9,351.4 631.9,353.0 674.0,349.8" fill="none" stroke="#fff" stroke-opacity="0.51" stroke-width="1.0"/>
<path d="M404.2,353.8 438.5,354.9 472.6,355.6 496.5,355.5 520.6,354.7 555.3,354.6 589.9,353.5 631.9,355.8 674.0,354.9" fill="none" stroke="#fff" stroke-opacity="0.93" stroke-width="1.0"/>
<path d="M404.2,356.4 438.5,357.0 472.6,356.0 496.5,356.4 520.6,357.7 555.3,357.6 589.9,356.0 631.9,357.1 674.0,356.8" fill="none" stroke="#fff" stroke-opacity="0.87" stroke-width="1.0"/>
<path d="M404.2,367.6 438.5,367.8 472.6,367.4 496.5,367.8 520.6,367.5 555.3,367.6 589.9,367.0 631.9,367.0 674.0,367.0" fill="none" stroke="#fff" stroke-opacity="0.46" stroke-width="1.0"/>
<path d="M404.2,370.1 438.5,370.5 472.6,370.1 496.5,371.5 520.6,371.7 555.3,370.5 589.9,369.4 631.9,371.5 674.0,371.5" fill="none" stroke="#fff" stroke-opacity="0.85" stroke-width="1.0"/>
<path d="M520.6,373.1 555.3,373.1 589.9,372.4 631.9,374.6" fill="none" stroke="#fff" stroke-opacity="0.49" stroke-width="1.0"/>
<path d="M404.2,375.0 438.5,377.8 472.6,375.1 496.5,375.2 520.6,376.2 555.3,377.1 589.9,376.3 631.9,377.0 674.0,375.5" fill="none" stroke="#fff" stroke-opacity="0.55" stroke-width="1.0"/>
<path d="M404.2,379.3 438.5,378.0 472.6,377.0 496.5,379.0 520.6,377.0 555.3,378.1 589.9,377.9 631.9,378.3 674.0,377.2" fill="none" stroke="#fff" stroke-opacity="0.86" stroke-width="1.0"/>
<path d="M404.2,380.6 438.5,380.9 472.6,380.4 496.5,380.9 520.6,381.2 555.3,382.0 589.9,379.9 631.9,382.6 674.0,382.5" fill="none" stroke="#fff" stroke-opacity="0.72" stroke-width="1.0"/>
<path d="M404.2,382.2 438.5,381.7 472.6,381.9 496.5,383.8 520.6,382.2 555.3,383.7 589.9,384.0 631.9,382.9 674.0,383.7" fill="none" stroke="#fff" stroke-opacity="0.76" stroke-width="1.0"/>
</g>
<g clip-path="url(#clipd)" fill="none" stroke="#1010e0" stroke-width="1.15" stroke-linejoin="round">
<path d="M404.2,276.1 438.5,275.5 472.6,275.7 496.5,276.0 520.6,276.4 555.3,275.7 589.9,275.7 631.9,275.9 674.0,276.2"/>
<path d="M404.2,281.3 438.5,281.5 472.6,280.6 496.5,281.2 520.6,281.0 555.3,280.2 589.9,280.6 631.9,280.4 674.0,280.3"/>
<path d="M404.2,287.4 438.5,287.2 472.6,287.9 496.5,286.8 520.6,286.6 555.3,287.7 589.9,287.0 631.9,286.7 674.0,287.0"/>
<path d="M404.2,288.2 438.5,287.9 472.6,287.9 496.5,288.6 520.6,287.7 555.3,287.6 589.9,288.0 631.9,287.9 674.0,287.8"/>
<path d="M404.2,290.9 438.5,291.6 472.6,291.6 496.5,291.2 520.6,291.1 555.3,292.1 589.9,292.4 631.9,291.4 674.0,292.1"/>
<path d="M404.2,291.7 438.5,292.1 472.6,292.4 496.5,292.3 520.6,292.0 555.3,292.8 589.9,292.9 631.9,292.4 674.0,292.9"/>
<path d="M520.0,282.9 560.0,282.4 600.0,282.7 640.0,282.4 674.0,282.9"/>
<path d="M404.2,300.3 472.7,305.4 489.0,303.4 590.2,301.3 674.0,300.3"/>
<path d="M404.2,303.6 438.5,302.7 472.6,303.0 496.5,303.1 520.6,304.3 555.3,303.5 589.9,303.9 631.9,302.6 674.0,303.4"/>
<path d="M404.2,305.0 438.5,305.1 472.6,305.8 496.5,305.2 520.6,306.1 555.3,306.0 589.9,305.0 631.9,304.4 674.0,305.4"/>
<path d="M404.2,307.1 438.5,307.8 472.6,306.7 496.5,306.6 520.6,308.3 555.3,308.7 589.9,308.8 631.9,309.2 674.0,308.5"/>
<path d="M404.2,309.2 438.5,308.9 472.6,308.9 496.5,309.3 520.6,311.3 555.3,309.9 589.9,310.2 631.9,310.3 674.0,311.5"/>
<path d="M404.2,311.3 438.5,311.1 472.6,311.7 496.5,313.0 520.6,313.3 555.3,314.2 589.9,316.1 631.9,315.3 674.0,316.6"/>
<path d="M404.2,319.1 440.0,313.6 472.7,314.9 590.0,316.6 674.0,319.7"/>
<path d="M404.2,323.3 438.5,323.2 472.6,323.1 496.5,323.2 520.6,322.2 555.3,322.6 589.9,322.8 631.9,322.6 674.0,321.8"/>
<path d="M404.2,325.5 438.5,324.9 472.6,325.6 496.5,325.4 520.6,325.2 555.3,325.8 589.9,325.0 631.9,324.8 674.0,324.8"/>
<path d="M404.2,327.6 438.5,328.3 472.6,327.9 496.5,327.4 520.6,327.4 555.3,327.8 589.9,327.1 631.9,328.0 674.0,327.9"/>
<path d="M404.2,329.7 438.5,330.4 472.6,330.2 496.5,331.1 520.6,331.5 555.3,331.2 589.9,331.7 631.9,331.1 674.0,332.0"/>
<path d="M404.2,332.5 438.5,332.1 472.6,333.9 496.5,333.1 520.6,333.3 555.3,334.7 589.9,334.8 631.9,334.1 674.0,335.0"/>
<path d="M404.2,335.3 438.5,335.2 472.6,335.2 496.5,335.4 520.6,335.2 555.3,336.2 589.9,336.0 631.9,336.3 674.0,336.6"/>
<path d="M404.2,301.8 438.5,301.8 472.6,302.6 496.5,301.0 520.6,301.5 555.3,302.9 589.9,302.4 631.9,301.3 674.0,302.1"/>
<path d="M404.2,306.2 438.5,305.9 472.6,307.1 496.5,306.2 520.6,305.5 555.3,307.2 589.9,305.8 631.9,306.8 674.0,306.6"/>
<path d="M404.2,310.2 438.5,310.4 472.6,310.0 496.5,310.9 520.6,309.3 555.3,310.0 589.9,309.0 631.9,310.6 674.0,309.6"/>
<path d="M404.2,320.2 438.5,320.0 472.6,319.7 496.5,319.6 520.6,320.8 555.3,320.3 589.9,320.4 631.9,320.2 674.0,320.1"/>
<path d="M404.2,321.8 438.5,321.8 472.6,322.5 496.5,322.4 520.6,322.9 555.3,322.9 589.9,323.4 631.9,322.9 674.0,323.2"/>
<path d="M404.2,326.6 438.5,326.0 472.6,326.0 496.5,326.9 520.6,326.0 555.3,326.7 589.9,326.6 631.9,325.7 674.0,326.4"/>
<path d="M404.2,330.9 438.5,331.3 472.6,330.0 496.5,331.2 520.6,331.0 555.3,329.9 589.9,330.7 631.9,330.6 674.0,330.1"/>
<path d="M404.2,333.9 438.5,333.3 472.6,334.1 496.5,333.2 520.6,334.4 555.3,334.0 589.9,334.4 631.9,332.9 674.0,333.6"/>
<path d="M404.2,365.1 438.5,365.2 472.6,365.5 496.5,365.5 520.6,365.7 555.3,364.8 589.9,365.8 631.9,365.2 674.0,365.1"/>
<path d="M404.2,361.1 472.7,360.6 520.8,360.1 590.2,361.1 674.0,361.6"/>
<path d="M404.2,359.2 472.7,363.1 520.8,363.6 590.2,362.6 674.0,359.4"/>
<path d="M404.2,386.2 438.5,386.4 472.6,385.4 496.5,385.8 520.6,385.8 555.3,386.6 589.9,386.5 631.9,386.8 674.0,386.2"/>
<path d="M404.2,387.0 438.5,387.3 472.6,386.3 496.5,387.2 520.6,387.5 555.3,387.5 589.9,387.0 631.9,387.2 674.0,387.0"/>
<path d="M404.2,389.9 438.5,389.7 472.6,389.9 496.5,389.3 520.6,390.2 555.3,390.1 589.9,389.6 631.9,389.7 674.0,389.9"/>
<path d="M404.2,392.6 438.5,393.0 472.6,392.5 496.5,393.3 520.6,393.4 555.3,393.1 589.9,391.9 631.9,391.9 674.0,392.6"/>
<path d="M404.2,394.8 438.5,394.5 472.6,394.6 496.5,395.1 520.6,395.3 555.3,394.9 589.9,395.0 631.9,394.9 674.0,394.8"/>
<path d="M404.2,397.9 438.5,397.2 472.6,397.9 496.5,397.4 520.6,397.8 555.3,397.1 589.9,398.1 631.9,398.6 674.0,397.9"/>
<path d="M404.2,400.3 438.5,399.6 472.6,400.4 496.5,399.5 520.6,400.1 555.3,399.8 589.9,400.9 631.9,400.7 674.0,400.3"/>
<path d="M404.2,402.6 425.7,405.7 450.0,400.6 472.6,399.3 520.7,395.8 539.4,393.4 560.4,397.0 583.8,409.8 590.1,409.8 620.0,407.5 674.0,405.6"/>
<path d="M460.0,412.1 495.0,412.1 516.0,398.1 539.4,393.4"/>
<path d="M404.2,408.0 472.7,412.7 520.0,412.6 540.0,411.6 590.0,414.6 674.0,412.6"/>
<path d="M404.2,410.1 438.5,409.3 472.6,410.7 496.5,409.8 520.6,410.5 555.3,411.1 589.9,411.4 631.9,410.9 674.0,411.1"/>
<path d="M404.2,416.6 438.5,416.8 472.6,416.0 496.5,417.0 520.6,417.1 555.3,418.2 589.9,417.8 631.9,418.4 674.0,418.1"/>
<path d="M404.2,420.8 438.5,420.6 472.6,420.0 496.5,421.2 520.6,421.1 555.3,420.1 589.9,419.5 631.9,420.2 674.0,420.1"/>
<path d="M404.2,411.9 438.5,412.6 472.6,412.8 496.5,413.7 520.6,413.2 555.3,414.7 589.9,414.6 631.9,415.5 674.0,415.8"/>
<path d="M404.2,414.2 438.5,413.7 472.6,414.0 496.5,413.8 520.6,413.9 555.3,414.6 589.9,414.2 631.9,414.9 674.0,414.2"/>
<path d="M404.2,418.9 438.5,419.4 472.6,419.2 496.5,420.2 520.6,420.5 555.3,420.3 589.9,421.3 631.9,420.8 674.0,422.0"/>
<path d="M404.2,422.8 438.5,422.6 472.6,422.9 496.5,423.1 520.6,423.5 555.3,423.0 589.9,422.0 631.9,422.8 674.0,422.8"/>
<path d="M404.2,425.1 438.5,424.9 472.6,425.9 496.5,426.3 520.6,425.2 555.3,426.5 589.9,425.9 631.9,425.9 674.0,426.6"/>
<path d="M404.2,427.4 438.5,427.3 472.6,427.3 496.5,427.1 520.6,427.0 555.3,427.3 589.9,427.7 631.9,426.9 674.0,427.4"/>
<path d="M404.2,431.3 438.5,431.2 472.6,431.1 496.5,432.0 520.6,431.3 555.3,432.2 589.9,431.1 631.9,432.6 674.0,432.1"/>
<path d="M404.2,437.5 438.5,437.4 472.6,438.2 496.5,438.0 520.6,438.0 555.3,436.7 589.9,437.9 631.9,437.5 674.0,437.5"/>
<path d="M404.2,440.6 438.5,441.1 472.6,440.5 496.5,440.1 520.6,440.8 555.3,440.9 589.9,439.6 631.9,439.3 674.0,439.8"/>
<path d="M404.2,446.1 438.5,445.9 472.6,446.2 496.5,445.3 520.6,445.8 555.3,445.7 589.9,446.0 631.9,444.8 674.0,445.3"/>
<path d="M404.2,454.6 438.5,453.9 472.6,454.4 496.5,454.7 520.6,454.3 555.3,454.5 589.9,453.6 631.9,453.2 674.0,453.8"/>
<path d="M404.2,460.5 438.5,460.7 472.6,460.6 496.5,459.6 520.6,459.6 555.3,460.5 589.9,460.4 631.9,459.6 674.0,460.0"/>
</g>
<rect x="404.2" y="267.7" width="269.8" height="202.0" fill="none" stroke="#000" stroke-width="1.9"/>
<line x1="396.9" y1="267.7" x2="404.2" y2="267.7" stroke="#000" stroke-width="1.9"/>
<text x="394.9" y="275.2" font-size="20" text-anchor="end">8</text>
<line x1="396.9" y1="301.4" x2="404.2" y2="301.4" stroke="#000" stroke-width="1.9"/>
<text x="394.9" y="308.9" font-size="20" text-anchor="end">6</text>
<line x1="396.9" y1="335.0" x2="404.2" y2="335.0" stroke="#000" stroke-width="1.9"/>
<text x="394.9" y="342.5" font-size="20" text-anchor="end">4</text>
<line x1="396.9" y1="368.7" x2="404.2" y2="368.7" stroke="#000" stroke-width="1.9"/>
<text x="394.9" y="376.2" font-size="20" text-anchor="end">2</text>
<line x1="396.9" y1="402.4" x2="404.2" y2="402.4" stroke="#000" stroke-width="1.9"/>
<text x="394.9" y="409.9" font-size="20" text-anchor="end">0</text>
<line x1="396.9" y1="436.0" x2="404.2" y2="436.0" stroke="#000" stroke-width="1.9"/>
<text x="394.9" y="443.5" font-size="20" text-anchor="end">-2</text>
<line x1="396.9" y1="469.7" x2="404.2" y2="469.7" stroke="#000" stroke-width="1.9"/>
<text x="394.9" y="477.2" font-size="20" text-anchor="end">-4</text>
<text x="404.2" y="491.0" font-size="18.7" text-anchor="middle">X</text>
<text x="472.6" y="491.0" font-size="18.7" text-anchor="middle">R</text>
<text x="520.6" y="491.0" font-size="18.7" text-anchor="middle">M</text>
<text x="589.9" y="491.0" font-size="18.7" text-anchor="middle">G</text>
<text x="674.0" y="491.0" font-size="18.7" text-anchor="middle">R</text>
<text transform="translate(368.2,368.2) rotate(-90)" font-size="18.7" text-anchor="middle" textLength="137" lengthAdjust="spacingAndGlyphs">Frequency (THz)</text>
<rect x="635.6" y="274.5" width="32.9" height="29.8" fill="#fff" stroke="#000" stroke-width="1.7"/>
<text x="652.0" y="297.4" font-size="20" text-anchor="middle">(d)</text>
</svg></body></html>
